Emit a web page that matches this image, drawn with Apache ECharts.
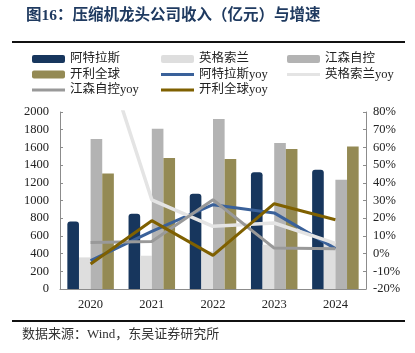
<!DOCTYPE html>
<html>
<head>
<meta charset="utf-8">
<title>压缩机龙头公司收入与增速</title>
<script src="https://cdn.jsdelivr.net/npm/echarts@6/dist/echarts.min.js"></script>
<style>
  html, body { margin: 0; padding: 0; background: #fff; }
  #main { width: 415px; height: 353px; }
</style>
</head>
<body>
<div id="main"></div>
<script>
var years = ['2020', '2021', '2022', '2023', '2024'];
// 收入（亿元）
var atlas = [764, 851, 1077, 1318, 1348];
var ingersoll = [357, 376, 425, 500, 523];
var johnson = [1695, 1811, 1921, 1650, 1235];
var carrier = [1306, 1480, 1469, 1582, 1611];
// 增速（%）
var atlasYoy = [-4, 12.5, 27.6, 23, 2.8];
var ingersollYoy = [137, 30.4, 15.4, 17.3, 5.8];
var johnsonYoy = [6.3, 6.9, 30.4, 3.1, 2.8];
var carrierYoy = [-5.9, 18.6, -1, 28.2, 19.1];

var FONT = '"Liberation Serif", "Noto Sans CJK SC", serif';
var axisGrey = '#8c8c8c';
// thin bar used as legend mark for the yoy lines
var LINE_ICON = 'path://M0,0L33,0L33,3L0,3Z';

var chart = echarts.init(document.getElementById('main'));

function lineSeries(name, data, color, width) {
    return {
        name: name, type: 'line', yAxisIndex: 1, data: data,
        symbol: 'none', clip: true,
        lineStyle: { color: color, width: width },
        itemStyle: { color: color }
    };
}
function barSeries(name, data, color, radius) {
    return {
        name: name, type: 'bar', data: data,
        barGap: '0%', barCategoryGap: '24%',
        itemStyle: { color: color, borderRadius: radius }
    };
}

var legendText = { fontFamily: FONT, fontSize: 12.5, color: '#222', lineHeight: 14 };
function legendCol(left, names) {
    var items = names.map(function (n) {
        return /yoy$/.test(n) ? { name: n, icon: LINE_ICON } : { name: n, icon: 'roundRect' };
    });
    return {
        orient: 'vertical', left: left, top: 52, itemWidth: 33, itemHeight: 8,
        itemGap: 1.5, padding: 0, textStyle: legendText, data: items
    };
}

chart.setOption({
    animation: false,
    textStyle: { fontFamily: FONT },
    title: {
        text: '图16：压缩机龙头公司收入（亿元）与增速',
        left: 21, top: 3,
        textStyle: { fontFamily: FONT, fontSize: 15.5, fontWeight: 'bold', color: '#1f3a60' }
    },
    legend: [
        legendCol(32, ['阿特拉斯', '开利全球', '江森自控yoy']),
        legendCol(161, ['英格索兰', '阿特拉斯yoy', '开利全球yoy']),
        legendCol(287, ['江森自控', '英格索兰yoy'])
    ],
    grid: { left: 60, right: 49, top: 112, height: 177 },
    xAxis: {
        type: 'category', data: years,
        axisLine: { lineStyle: { color: axisGrey } },
        axisTick: { inside: true, length: 4, lineStyle: { color: axisGrey } },
        axisLabel: { fontFamily: FONT, fontSize: 12.5, color: '#222', margin: 9 }
    },
    yAxis: [{
        type: 'value', min: 0, max: 2000, interval: 200,
        axisLine: { show: true, lineStyle: { color: axisGrey } },
        axisTick: { show: true, inside: true, length: 3, lineStyle: { color: axisGrey } },
        splitLine: { show: false },
        axisLabel: {
            fontFamily: FONT, fontSize: 12.5, color: '#222', margin: 11,
            formatter: function (v) { return String(v); }
        }
    }, {
        type: 'value', min: -20, max: 80, interval: 10,
        axisLine: { show: true, lineStyle: { color: axisGrey } },
        axisTick: { show: true, inside: true, length: 3, lineStyle: { color: axisGrey } },
        splitLine: { show: false },
        axisLabel: { fontFamily: FONT, fontSize: 12.5, color: '#222', margin: 7, formatter: '{value}%' }
    }],
    series: [
        barSeries('阿特拉斯', atlas, '#17365d', [3, 3, 0, 0]),
        barSeries('英格索兰', ingersoll, '#dedede', 0),
        barSeries('江森自控', johnson, '#b3b3b3', 0),
        barSeries('开利全球', carrier, '#948a54', 0),
        lineSeries('阿特拉斯yoy', atlasYoy, '#3a619a', 3),
        lineSeries('英格索兰yoy', ingersollYoy, '#e4e4e4', 3.5),
        lineSeries('江森自控yoy', johnsonYoy, '#999999', 3),
        lineSeries('开利全球yoy', carrierYoy, '#7f6000', 3)
    ],
    graphic: [
        { type: 'line', shape: { x1: 12, y1: 42, x2: 405, y2: 42 }, style: { stroke: '#111', lineWidth: 2 } },
        { type: 'line', shape: { x1: 12, y1: 321, x2: 405, y2: 321 }, style: { stroke: '#111', lineWidth: 2 } },
        {
            type: 'text', left: 22, top: 328,
            style: { text: '数据来源：Wind，东吴证券研究所', fill: '#333', font: '13px "Liberation Serif", "Noto Sans CJK SC", serif' }
        }
    ]
});
</script>
</body>
</html>
